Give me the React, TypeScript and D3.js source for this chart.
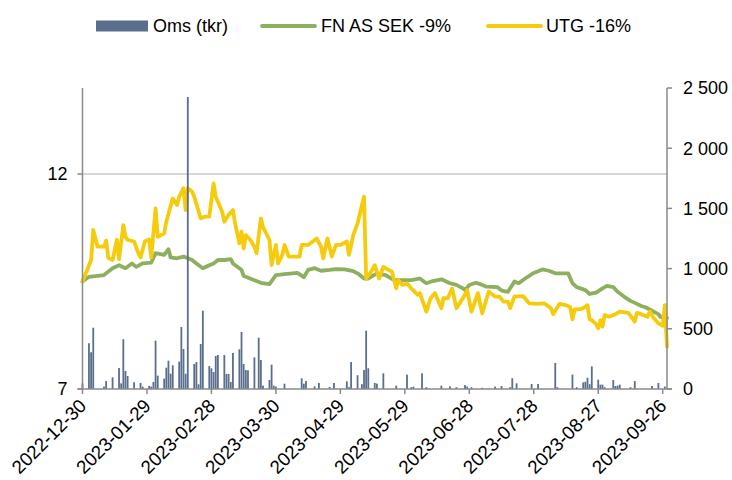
import { useRef, useEffect } from "react";
import * as d3 from "d3";

// Oms (tkr), right axis
const OMS: [string, number][] = [
  ["2022-12-30", 47], ["2023-01-02", 380], ["2023-01-03", 305], ["2023-01-04", 509], ["2023-01-09", 20],
  ["2023-01-10", 66], ["2023-01-13", 97], ["2023-01-16", 174], ["2023-01-17", 47], ["2023-01-18", 413],
  ["2023-01-19", 150], ["2023-01-20", 108], ["2023-01-23", 56], ["2023-01-26", 50], ["2023-01-27", 20],
  ["2023-01-30", 25], ["2023-01-31", 20], ["2023-02-01", 58], ["2023-02-02", 401], ["2023-02-03", 111],
  ["2023-02-06", 86], ["2023-02-07", 177], ["2023-02-08", 235], ["2023-02-09", 127], ["2023-02-10", 197],
  ["2023-02-13", 227], ["2023-02-14", 515], ["2023-02-15", 332], ["2023-02-16", 127], ["2023-02-17", 2425],
  ["2023-02-20", 208], ["2023-02-21", 224], ["2023-02-22", 39], ["2023-02-23", 374], ["2023-02-24", 650],
  ["2023-02-27", 191], ["2023-02-28", 172], ["2023-03-01", 141], ["2023-03-02", 274], ["2023-03-03", 282],
  ["2023-03-06", 282], ["2023-03-07", 125], ["2023-03-08", 125], ["2023-03-09", 58], ["2023-03-10", 299],
  ["2023-03-13", 330], ["2023-03-14", 473], ["2023-03-15", 208], ["2023-03-16", 158], ["2023-03-17", 155],
  ["2023-03-20", 263], ["2023-03-22", 426], ["2023-03-23", 241], ["2023-03-24", 28], ["2023-03-27", 75],
  ["2023-03-28", 202], ["2023-03-29", 28], ["2023-03-30", 20], ["2023-04-03", 44], ["2023-04-11", 89],
  ["2023-04-12", 44], ["2023-04-13", 66], ["2023-04-17", 22], ["2023-04-19", 50], ["2023-04-24", 17],
  ["2023-04-26", 50], ["2023-05-02", 64], ["2023-05-03", 15], ["2023-05-04", 224], ["2023-05-07", 114],
  ["2023-05-09", 40], ["2023-05-10", 158], ["2023-05-11", 484], ["2023-05-12", 172], ["2023-05-15", 50],
  ["2023-05-16", 45], ["2023-05-19", 130], ["2023-05-25", 28], ["2023-05-30", 119], ["2023-06-01", 15],
  ["2023-06-02", 20], ["2023-06-06", 130], ["2023-06-08", 15], ["2023-06-15", 28], ["2023-06-19", 22],
  ["2023-06-22", 15], ["2023-06-26", 33], ["2023-06-27", 20], ["2023-06-29", 15], ["2023-07-04", 10],
  ["2023-07-10", 20], ["2023-07-13", 25], ["2023-07-17", 15], ["2023-07-18", 89], ["2023-07-20", 47],
  ["2023-07-27", 42], ["2023-07-30", 42], ["2023-08-07", 216], ["2023-08-08", 15], ["2023-08-15", 119],
  ["2023-08-17", 15], ["2023-08-20", 55], ["2023-08-21", 60], ["2023-08-22", 94], ["2023-08-23", 40],
  ["2023-08-24", 188], ["2023-08-27", 77], ["2023-08-28", 36], ["2023-08-29", 36], ["2023-08-30", 15],
  ["2023-09-03", 74], ["2023-09-04", 25], ["2023-09-05", 28], ["2023-09-06", 36], ["2023-09-11", 15],
  ["2023-09-13", 66], ["2023-09-21", 25], ["2023-09-24", 50], ["2023-09-27", 20]
];

// FN AS SEK -9%, left axis
const FN_SEK: [string, number][] = [
  ["2022-12-30", 9.5], ["2023-01-02", 9.61], ["2023-01-09", 9.65], ["2023-01-11", 9.73], ["2023-01-13", 9.81],
  ["2023-01-16", 9.88], ["2023-01-19", 9.81], ["2023-01-22", 9.92], ["2023-01-24", 9.84], ["2023-01-27", 9.92],
  ["2023-01-31", 9.94], ["2023-02-02", 10.16], ["2023-02-06", 10.12], ["2023-02-08", 10.25], ["2023-02-09", 10.06],
  ["2023-02-12", 10.04], ["2023-02-15", 10.08], ["2023-02-19", 10.0], ["2023-02-21", 9.92], ["2023-02-24", 9.81],
  ["2023-02-27", 9.88], ["2023-03-01", 9.92], ["2023-03-03", 10.0], ["2023-03-06", 10.0], ["2023-03-09", 10.02],
  ["2023-03-10", 9.92], ["2023-03-13", 9.81], ["2023-03-14", 9.77], ["2023-03-15", 9.63], ["2023-03-16", 9.61],
  ["2023-03-20", 9.53], ["2023-03-23", 9.47], ["2023-03-27", 9.44], ["2023-03-30", 9.65], ["2023-04-03", 9.67],
  ["2023-04-09", 9.7], ["2023-04-12", 9.6], ["2023-04-14", 9.77], ["2023-04-17", 9.81], ["2023-04-20", 9.75],
  ["2023-04-24", 9.77], ["2023-04-27", 9.79], ["2023-05-01", 9.78], ["2023-05-05", 9.74], ["2023-05-07", 9.69],
  ["2023-05-10", 9.57], ["2023-05-12", 9.57], ["2023-05-16", 9.69], ["2023-05-20", 9.65], ["2023-05-24", 9.53],
  ["2023-06-01", 9.53], ["2023-06-05", 9.57], ["2023-06-08", 9.46], ["2023-06-11", 9.51], ["2023-06-15", 9.55],
  ["2023-06-19", 9.46], ["2023-06-22", 9.42], ["2023-06-25", 9.34], ["2023-06-26", 9.3], ["2023-06-28", 9.42],
  ["2023-07-01", 9.47], ["2023-07-03", 9.44], ["2023-07-06", 9.38], ["2023-07-11", 9.37], ["2023-07-13", 9.29],
  ["2023-07-16", 9.26], ["2023-07-19", 9.5], ["2023-07-21", 9.46], ["2023-07-24", 9.57], ["2023-07-28", 9.7],
  ["2023-08-01", 9.78], ["2023-08-04", 9.75], ["2023-08-07", 9.69], ["2023-08-13", 9.69], ["2023-08-15", 9.46],
  ["2023-08-17", 9.37], ["2023-08-21", 9.3], ["2023-08-23", 9.21], ["2023-08-26", 9.24], ["2023-08-29", 9.34],
  ["2023-08-31", 9.4], ["2023-09-03", 9.37], ["2023-09-05", 9.26], ["2023-09-08", 9.15], ["2023-09-11", 9.05],
  ["2023-09-14", 8.98], ["2023-09-16", 8.93], ["2023-09-18", 8.9], ["2023-09-21", 8.82], ["2023-09-24", 8.74],
  ["2023-09-25", 8.67], ["2023-09-28", 8.65]
];

// UTG -16%, left axis
const UTG: [string, number][] = [
  ["2022-12-30", 9.5], ["2023-01-03", 10.0], ["2023-01-04", 10.7], ["2023-01-06", 10.31], ["2023-01-09", 10.31],
  ["2023-01-10", 10.45], ["2023-01-11", 10.05], ["2023-01-13", 10.0], ["2023-01-15", 10.47], ["2023-01-16", 10.02],
  ["2023-01-18", 10.81], ["2023-01-19", 10.54], ["2023-01-20", 10.47], ["2023-01-23", 10.43], ["2023-01-25", 10.16],
  ["2023-01-26", 10.06], ["2023-01-28", 10.43], ["2023-01-30", 10.48], ["2023-01-31", 10.06], ["2023-02-02", 11.2],
  ["2023-02-03", 10.54], ["2023-02-06", 10.62], ["2023-02-07", 10.89], ["2023-02-10", 11.43], ["2023-02-12", 11.28],
  ["2023-02-13", 11.47], ["2023-02-15", 11.67], ["2023-02-16", 11.16], ["2023-02-17", 11.67], ["2023-02-19", 11.59],
  ["2023-02-20", 11.47], ["2023-02-23", 10.97], ["2023-02-25", 11.01], ["2023-02-27", 11.01], ["2023-03-01", 11.78],
  ["2023-03-02", 11.47], ["2023-03-05", 11.12], ["2023-03-06", 10.89], ["2023-03-08", 11.05], ["2023-03-10", 11.16],
  ["2023-03-11", 10.85], ["2023-03-13", 10.39], ["2023-03-14", 10.66], ["2023-03-15", 10.27], ["2023-03-16", 10.58],
  ["2023-03-18", 10.47], ["2023-03-20", 10.31], ["2023-03-21", 10.16], ["2023-03-23", 10.97], ["2023-03-24", 10.77],
  ["2023-03-27", 10.47], ["2023-03-28", 9.88], ["2023-03-30", 10.35], ["2023-03-31", 9.92], ["2023-04-02", 10.12],
  ["2023-04-03", 10.35], ["2023-04-05", 10.08], ["2023-04-10", 10.08], ["2023-04-11", 10.35], ["2023-04-14", 10.35],
  ["2023-04-18", 10.5], ["2023-04-20", 10.31], ["2023-04-21", 10.04], ["2023-04-23", 10.5], ["2023-04-25", 10.08],
  ["2023-04-27", 10.35], ["2023-04-29", 10.35], ["2023-05-02", 10.43], ["2023-05-03", 10.12], ["2023-05-05", 10.58],
  ["2023-05-07", 10.85], ["2023-05-10", 11.47], ["2023-05-11", 9.57], ["2023-05-13", 9.7], ["2023-05-15", 9.88],
  ["2023-05-17", 9.57], ["2023-05-19", 9.84], ["2023-05-21", 9.78], ["2023-05-23", 9.73], ["2023-05-25", 9.34],
  ["2023-05-26", 9.53], ["2023-05-28", 9.42], ["2023-05-30", 9.46], ["2023-06-01", 9.34], ["2023-06-04", 9.19],
  ["2023-06-05", 9.23], ["2023-06-08", 8.8], ["2023-06-10", 9.11], ["2023-06-12", 9.23], ["2023-06-15", 8.88],
  ["2023-06-16", 9.11], ["2023-06-18", 9.11], ["2023-06-20", 9.34], ["2023-06-22", 8.88], ["2023-06-25", 9.11],
  ["2023-06-27", 9.3], ["2023-06-29", 8.8], ["2023-07-02", 9.23], ["2023-07-04", 8.76], ["2023-07-07", 9.26],
  ["2023-07-10", 9.15], ["2023-07-12", 9.15], ["2023-07-14", 9.03], ["2023-07-16", 9.03], ["2023-07-17", 8.88],
  ["2023-07-19", 9.15], ["2023-07-23", 9.16], ["2023-07-26", 8.99], ["2023-07-29", 8.98], ["2023-08-02", 8.99],
  ["2023-08-05", 8.88], ["2023-08-06", 8.74], ["2023-08-09", 8.98], ["2023-08-12", 8.95], ["2023-08-14", 8.9],
  ["2023-08-15", 8.62], ["2023-08-16", 8.85], ["2023-08-18", 8.85], ["2023-08-20", 8.88], ["2023-08-22", 8.95],
  ["2023-08-23", 8.62], ["2023-08-24", 8.6], ["2023-08-26", 8.51], ["2023-08-27", 8.41], ["2023-08-28", 8.6],
  ["2023-08-29", 8.45], ["2023-08-30", 8.72], ["2023-09-01", 8.68], ["2023-09-04", 8.74], ["2023-09-06", 8.8],
  ["2023-09-10", 8.77], ["2023-09-13", 8.57], ["2023-09-14", 8.77], ["2023-09-16", 8.74], ["2023-09-19", 8.68],
  ["2023-09-20", 8.8], ["2023-09-22", 8.64], ["2023-09-24", 8.53], ["2023-09-26", 8.47], ["2023-09-27", 8.95],
  ["2023-09-28", 7.98]
];

const START = "2022-12-30";
const END = "2023-09-28";
const LEFT_TICKS = [7, 12];
const RIGHT_TICKS = [0, 500, 1000, 1500, 2000, 2500];
const TICK_STEP_DAYS = 30;

const BAR_COLOR = "#5a6e8e";
const GREEN = "#8cb05e";
const YELLOW = "#f5cb0c";
const AXIS = "#8a8a8a";
const FONT = "'Liberation Sans', Arial, sans-serif";

const W = 732, H = 480;
const M = { left: 82.5, right: 667, top: 88, bottom: 389 };

export default function App() {
  const svgRef = useRef<SVGSVGElement>(null);

  useEffect(() => {
    const svg = d3.select(svgRef.current);
    svg.selectAll("*").remove();
    const parse = d3.utcParse("%Y-%m-%d");
    const x = d3.scaleUtc().domain([parse(START)!, parse(END)!]).range([M.left, M.right]);
    const yL = d3.scaleLinear().domain([7, 14]).range([M.bottom, M.top]);
    const yR = d3.scaleLinear().domain([0, 2500]).range([M.bottom, M.top]);

    // gridline at 12
    svg.append("line")
      .attr("x1", M.left).attr("x2", M.right)
      .attr("y1", yL(12)).attr("y2", yL(12))
      .attr("stroke", "#cacaca").attr("stroke-width", 1.5);

    const line = d3.line<[string, number]>()
      .x((d) => x(parse(d[0])!))
      .y((d) => yL(d[1]));

    svg.append("path").datum(FN_SEK).attr("d", line)
      .attr("fill", "none").attr("stroke", GREEN).attr("stroke-width", 3.8)
      .attr("stroke-linejoin", "round").attr("stroke-linecap", "round");
    svg.append("path").datum(UTG).attr("d", line)
      .attr("fill", "none").attr("stroke", YELLOW).attr("stroke-width", 3.8)
      .attr("stroke-linejoin", "round").attr("stroke-linecap", "round");

    // bars on secondary axis
    const bw = 1.8;
    svg.append("g").selectAll("rect").data(OMS).join("rect")
      .attr("x", (d) => x(parse(d[0])!) - bw / 2)
      .attr("y", (d) => yR(d[1]))
      .attr("width", bw)
      .attr("height", (d) => M.bottom - yR(d[1]))
      .attr("fill", BAR_COLOR);

    // axes
    const axes = svg.append("g").attr("stroke", AXIS).attr("stroke-width", 1.5);
    axes.append("line").attr("x1", M.left).attr("x2", M.left).attr("y1", M.top).attr("y2", M.bottom);
    axes.append("line").attr("x1", M.right).attr("x2", M.right).attr("y1", M.top).attr("y2", M.bottom);
    axes.append("line").attr("x1", M.left - 5).attr("x2", M.right + 5).attr("y1", M.bottom).attr("y2", M.bottom);

    LEFT_TICKS.forEach((t) => {
      axes.append("line").attr("x1", M.left - 5).attr("x2", M.left).attr("y1", yL(t)).attr("y2", yL(t));
    });
    RIGHT_TICKS.forEach((t) => {
      axes.append("line").attr("x1", M.right).attr("x2", M.right + 5).attr("y1", yR(t)).attr("y2", yR(t));
    });
    const xTicks = d3.range(0, 271, TICK_STEP_DAYS).map((i) => d3.utcDay.offset(parse(START)!, i));
    xTicks.forEach((t) => {
      axes.append("line").attr("x1", x(t)).attr("x2", x(t)).attr("y1", M.bottom).attr("y2", M.bottom + 5);
    });

    const txt = svg.append("g").attr("font-family", FONT).attr("font-size", 18).attr("fill", "#000");
    LEFT_TICKS.forEach((t) => {
      txt.append("text").attr("x", M.left - 15).attr("y", yL(t)).attr("dy", "0.36em")
        .attr("text-anchor", "end").text(t);
    });
    const fmt = (v: number) => d3.format(",")(v).replace(/,/g, " ");
    RIGHT_TICKS.forEach((t) => {
      txt.append("text").attr("x", M.right + 16).attr("y", yR(t)).attr("dy", "0.36em")
        .attr("text-anchor", "start").text(fmt(t));
    });
    const fmtDate = d3.utcFormat("%Y-%m-%d");
    xTicks.forEach((t) => {
      txt.append("text")
        .attr("transform", `translate(${x(t) + 5},${M.bottom + 18}) rotate(-45)`)
        .attr("font-size", 18.8)
        .attr("text-anchor", "end").text(fmtDate(t));
    });

    // legend
    const lg = svg.append("g").attr("font-family", FONT).attr("font-size", 18);
    const ly = 26;
    lg.append("rect").attr("x", 96).attr("y", ly - 5.5).attr("width", 52).attr("height", 11).attr("fill", BAR_COLOR);
    lg.append("text").attr("x", 153).attr("y", ly).attr("dy", "0.36em").text("Oms (tkr)");
    lg.append("line").attr("x1", 262).attr("x2", 315).attr("y1", ly).attr("y2", ly)
      .attr("stroke", GREEN).attr("stroke-width", 3.8).attr("stroke-linecap", "round");
    lg.append("text").attr("x", 321).attr("y", ly).attr("dy", "0.36em").text("FN AS SEK -9%");
    lg.append("line").attr("x1", 488).attr("x2", 541).attr("y1", ly).attr("y2", ly)
      .attr("stroke", YELLOW).attr("stroke-width", 3.8).attr("stroke-linecap", "round");
    lg.append("text").attr("x", 546).attr("y", ly).attr("dy", "0.36em").text("UTG -16%");
  }, []);

  return (
    <svg ref={svgRef} width={W} height={H}
      style={{ position: "absolute", left: 0, top: 0, background: "#fff" }} />
  );
}
